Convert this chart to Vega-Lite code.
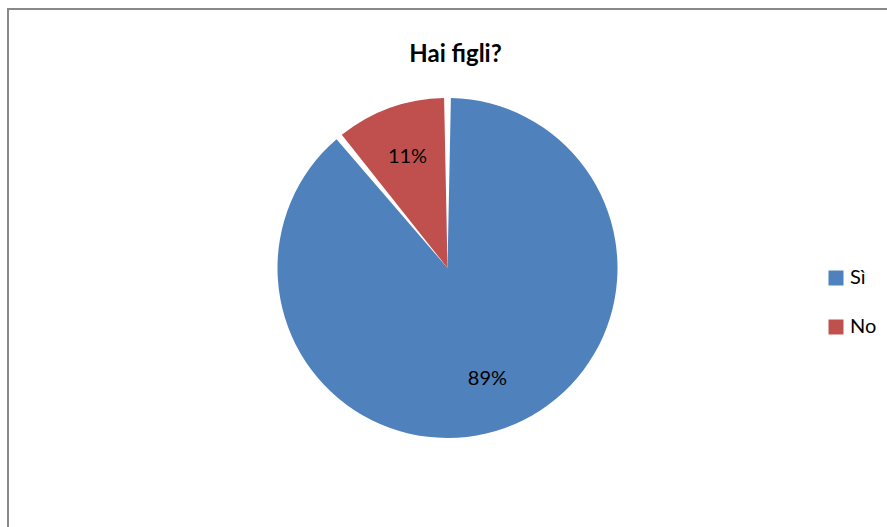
{
  "$schema": "https://vega.github.io/schema/vega-lite/v6.json",
  "width": 879,
  "height": 518,
  "autosize": "none",
  "padding": {"left": 8, "top": 9, "right": 0, "bottom": 0},
  "background": "white",
  "view": {"stroke": "#888888", "strokeWidth": 2, "strokeDash": [879, 1397], "fill": "white"},
  "config": {
    "font": "Lato"
  },
  "title": {
    "text": "Hai figli?",
    "font": "Lato",
    "fontSize": 24,
    "fontWeight": "bold",
    "color": "black",
    "anchor": "middle",
    "frame": "group",
    "baseline": "alphabetic",
    "offset": -77,
    "dx": 8
  },
  "data": {
    "values": [
      {"risposta": "Sì", "valore": 89, "etichetta": "89%", "ordine": 1},
      {"risposta": "No", "valore": 11, "etichetta": "11%", "ordine": 2}
    ]
  },
  "encoding": {
    "theta": {"field": "valore", "type": "quantitative", "stack": true},
    "order": {"field": "ordine", "type": "quantitative"}
  },
  "layer": [
    {
      "mark": {"type": "arc", "outerRadius": 170, "padAngle": 0.04},
      "encoding": {
        "color": {
          "field": "risposta",
          "type": "nominal",
          "scale": {"domain": ["Sì", "No"], "range": ["#4F81BD", "#C0504D"]},
          "legend": {
            "orient": "none",
            "legendX": 818,
            "legendY": 259,
            "title": null,
            "symbolType": "square",
            "symbolSize": 225,
            "symbolStrokeWidth": 0,
            "labelFont": "Lato",
            "labelFontSize": 20,
            "labelColor": "black",
            "rowPadding": 29
          }
        }
      }
    },
    {
      "mark": {"type": "text", "radius": 118, "fontSize": 20, "font": "Lato", "color": "black"},
      "encoding": {
        "text": {"field": "etichetta", "type": "nominal"}
      }
    }
  ]
}
